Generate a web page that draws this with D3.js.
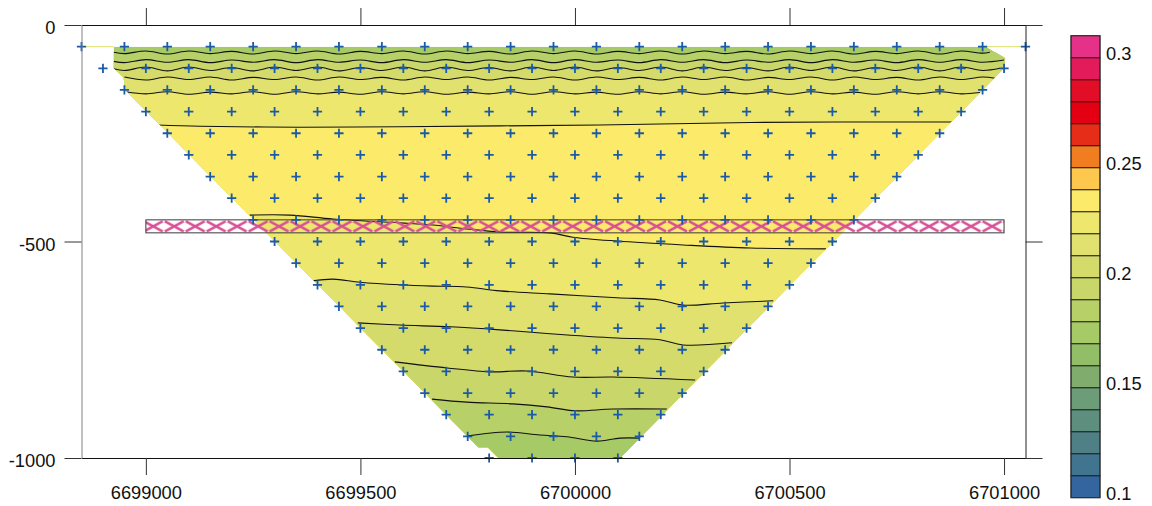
<!DOCTYPE html>
<html>
<head>
<meta charset="utf-8">
<script src="https://cdn.jsdelivr.net/npm/d3@7"></script>
<style>
  html, body { margin: 0; padding: 0; background: #fff; }
  svg { display: block; font-family: "Liberation Sans", Arial, sans-serif; }
</style>
</head>
<body>
<svg id="chart" width="1152" height="506"></svg>
<script>
// ---- axes ----
const eastingDomain = [6698850, 6701050];
const depthDomain = [0, -1000];
const eastingTicks = [6699000, 6699500, 6700000, 6700500, 6701000];
const depthTicks = [0, -500, -1000];

// ---- colour classes (0.01 wide) ----
const levels = [0.10, 0.11, 0.12, 0.13, 0.14, 0.15, 0.16, 0.17, 0.18, 0.19, 0.20,
                0.21, 0.22, 0.23, 0.24, 0.25, 0.26, 0.27, 0.28, 0.29, 0.30, 0.31];
const legendTicks = [0.1, 0.15, 0.2, 0.25, 0.3];
const palette = ["#35659e", "#41758f", "#4e8086", "#5d8e7e", "#6c9c78", "#80ad6e",
                 "#92be68", "#a5ca66", "#b7d067", "#c8d66a", "#d4db6b", "#e0e16e",
                 "#eee76e", "#fceb6a", "#fec84f", "#f07e21", "#e52d18", "#e20012",
                 "#e20d26", "#e41b5a", "#e63188"];

// ---- survey stations: one row per depth, 100 m apart along each row ----
const stationDepth = [-50, -100, -150, -200, -250, -300, -350, -400, -450, -500,
                      -550, -600, -650, -700, -750, -800, -850, -900, -950, -1000];
const stationFirst = [6698850, 6698900, 6698950, 6699000, 6699050, 6699100, 6699150,
                      6699200, 6699250, 6699300, 6699350, 6699400, 6699450, 6699500,
                      6699550, 6699600, 6699650, 6699700, 6699750, 6699800];
const stationLast  = [6701050, 6701000, 6700950, 6700900, 6700850, 6700800, 6700750,
                      6700700, 6700650, 6700600, 6700550, 6700500, 6700450, 6700400,
                      6700350, 6700300, 6700250, 6700200, 6700150, 6700100];
const stationStep = 100;

// ---- gridded area (easting, depth) ----
const coverage = [[6698925, -50], [6700958, -50], [6701003, -76], [6701000, -100],
                  [6700950, -150], [6700105, -1000], [6699822, -1000], [6699797, -975],
                  [6699775, -975], [6698952, -150], [6698948, -122], [6698925, -100]];

// ---- isolines (easting, depth), top to bottom ----
const iso018a = [[6698925,-63],[6698950,-66],[6699000,-60],[6699050,-67],[6699100,-60],[6699150,-66],[6699200,-61],[6699250,-67],[6699300,-60],[6699350,-66],[6699400,-60],[6699450,-67],[6699500,-61],[6699550,-66],[6699600,-60],[6699650,-67],[6699700,-60],[6699750,-66],[6699800,-61],[6699850,-67],[6699900,-60],[6699950,-66],[6700000,-60],[6700050,-67],[6700100,-61],[6700150,-66],[6700200,-60],[6700250,-67],[6700300,-60],[6700350,-66],[6700400,-61],[6700450,-67],[6700500,-60],[6700550,-66],[6700600,-60],[6700650,-67],[6700700,-61],[6700750,-66],[6700800,-60],[6700850,-67],[6700900,-60],[6700950,-65],[6700967,-63]];
const iso019a = [[6698925,-84],[6698950,-87],[6699000,-80],[6699050,-86],[6699100,-80],[6699150,-87],[6699200,-81],[6699250,-86],[6699300,-80],[6699350,-87],[6699400,-80],[6699450,-86],[6699500,-81],[6699550,-87],[6699600,-80],[6699650,-86],[6699700,-80],[6699750,-87],[6699800,-81],[6699850,-86],[6699900,-80],[6699950,-87],[6700000,-80],[6700050,-86],[6700100,-81],[6700150,-87],[6700200,-80],[6700250,-86],[6700300,-80],[6700350,-87],[6700400,-81],[6700450,-86],[6700500,-80],[6700550,-87],[6700600,-80],[6700650,-86],[6700700,-81],[6700750,-87],[6700800,-80],[6700850,-86],[6700900,-80],[6700950,-86],[6701000,-81]];
const iso020a = [[6698925,-101],[6698950,-105],[6699000,-97],[6699050,-106],[6699100,-97],[6699150,-105],[6699200,-98],[6699250,-106],[6699300,-97],[6699350,-105],[6699400,-97],[6699450,-106],[6699500,-98],[6699550,-105],[6699600,-97],[6699650,-106],[6699700,-97],[6699750,-105],[6699800,-98],[6699850,-106],[6699900,-97],[6699950,-105],[6700000,-97],[6700050,-106],[6700100,-98],[6700150,-105],[6700200,-97],[6700250,-106],[6700300,-97],[6700350,-105],[6700400,-98],[6700450,-106],[6700500,-97],[6700550,-105],[6700600,-97],[6700650,-106],[6700700,-98],[6700750,-105],[6700800,-97],[6700850,-106],[6700900,-97],[6700950,-105],[6700991,-100]];
const iso021a = [[6698950,-120],[6699000,-127],[6699050,-120],[6699100,-126],[6699150,-120],[6699200,-127],[6699250,-121],[6699300,-126],[6699350,-120],[6699400,-127],[6699450,-120],[6699500,-126],[6699550,-121],[6699600,-127],[6699650,-120],[6699700,-126],[6699750,-120],[6699800,-127],[6699850,-121],[6699900,-126],[6699950,-120],[6700000,-127],[6700050,-120],[6700100,-126],[6700150,-121],[6700200,-127],[6700250,-120],[6700300,-126],[6700350,-120],[6700400,-127],[6700450,-121],[6700500,-126],[6700550,-120],[6700600,-127],[6700650,-120],[6700700,-126],[6700750,-121],[6700800,-127],[6700850,-120],[6700900,-126],[6700950,-120],[6700979,-123]];
const iso022a = [[6698953,-154],[6699000,-159],[6699050,-154],[6699100,-160],[6699150,-155],[6699200,-159],[6699250,-154],[6699300,-160],[6699350,-154],[6699400,-159],[6699450,-155],[6699500,-160],[6699550,-154],[6699600,-159],[6699650,-154],[6699700,-160],[6699750,-155],[6699800,-159],[6699850,-154],[6699900,-160],[6699950,-154],[6700000,-159],[6700050,-155],[6700100,-160],[6700150,-154],[6700200,-159],[6700250,-154],[6700300,-160],[6700350,-155],[6700400,-159],[6700450,-154],[6700500,-160],[6700550,-154],[6700600,-159],[6700650,-155],[6700700,-160],[6700750,-154],[6700800,-159],[6700850,-154],[6700900,-159],[6700944,-156]];
const iso023a = [[6699028,-231],[6699126,-234],[6699359,-236],[6699592,-235],[6699825,-233],[6700058,-231],[6700408,-225],[6700879,-224]];
const iso023b = [[6699242,-439],[6699336,-439],[6699436,-448],[6699592,-457],[6699669,-462],[6699748,-471],[6699825,-478],[6699942,-480],[6699995,-490],[6700098,-499],[6700252,-508],[6700408,-515],[6700585,-517]];
const iso022b = [[6699389,-591],[6699436,-587],[6699499,-594],[6699592,-600],[6699669,-603],[6699748,-605],[6699825,-614],[6699942,-621],[6700098,-630],[6700198,-635],[6700252,-647],[6700345,-642],[6700462,-637]];
const iso021b = [[6699494,-688],[6699592,-693],[6699709,-697],[6699825,-704],[6699942,-713],[6700098,-723],[6700198,-727],[6700252,-739],[6700366,-734]];
const iso020b = [[6699580,-778],[6699702,-792],[6699802,-801],[6699888,-799],[6699995,-813],[6700089,-813],[6700280,-820]];
const iso019b = [[6699667,-864],[6699748,-871],[6699855,-875],[6699935,-882],[6700000,-891],[6700089,-887],[6700214,-887]];
const iso018b = [[6699751,-949],[6699841,-940],[6699918,-947],[6699981,-951],[6700051,-961],[6700105,-954],[6700152,-954]];

const isolines = [iso018a, iso019a, iso020a, iso021a, iso022a, iso023a,
                  iso023b, iso022b, iso021b, iso020b, iso019b, iso018b];
// value class lying just below each isoline, and the class at the surface
const bandBelow = [0.185, 0.195, 0.205, 0.215, 0.225, 0.235,
                   0.225, 0.215, 0.205, 0.195, 0.185, 0.175];
const surfaceBand = 0.175;

// ---- marked interval ----
const barEasting = [6699000, 6701000];
const barDepth = [-450, -480];

// ---------------------------------------------------------------
const svg = d3.select("#chart");
const defs = svg.append("defs");
const FONT = "'Liberation Sans', Arial, sans-serif";
const FS = 18.3;
const plain = d => String(d);   // keeps an ASCII hyphen for negative depths

const x = d3.scaleLinear().domain(eastingDomain).range([81.5, 1025.5]);
const y = d3.scaleLinear().domain(depthDomain).range([25, 458]);
const color = d3.scaleThreshold().domain(levels.slice(1, -1)).range(palette);

const curve = d3.curveCatmullRom.alpha(0.5);
const line = d3.line().x(d => x(d[0])).y(d => y(d[1])).curve(curve);
const area = d3.area().x(d => x(d[0])).y0(y(depthDomain[1]) + 10).y1(d => y(d[1])).curve(curve);
const poly = d3.line().x(d => x(d[0])).y(d => y(d[1]));

defs.append("clipPath").attr("id", "coverage-clip")
  .append("path").attr("d", poly(coverage) + "Z");

// filled classes
const fillG = svg.append("g").attr("clip-path", "url(#coverage-clip)");
fillG.append("path").attr("d", poly(coverage) + "Z").attr("fill", color(surfaceBand));
isolines.forEach((pts, i) => {
  const ext = [[eastingDomain[0], pts[0][1]], ...pts, [eastingDomain[1], pts[pts.length - 1][1]]];
  fillG.append("path").attr("d", area(ext)).attr("fill", color(bandBelow[i]));
});

// thin strip along the shallowest station row beyond the gridded area
const edgeG = svg.append("g").attr("fill", "none")
  .attr("stroke", color(0.215)).attr("stroke-width", 1.2).attr("opacity", 0.85);
edgeG.append("path").attr("d", poly([[stationFirst[0], stationDepth[0]], coverage[0]]));
edgeG.append("path").attr("d", poly([coverage[1], [stationLast[0], stationDepth[0]]]));

// isolines
const lineG = svg.append("g").attr("clip-path", "url(#coverage-clip)")
  .attr("fill", "none").attr("stroke", "#111").attr("stroke-width", 1.1);
isolines.forEach(pts => lineG.append("path").attr("d", line(pts)));

// marked interval with cross hatching
const barX0 = x(barEasting[0]), barX1 = x(barEasting[1]);
const barY0 = y(barDepth[0]), barY1 = y(barDepth[1]);
const hatchW = 20.97, hatchH = barY1 - barY0;
const pat = defs.append("pattern").attr("id", "xhatch")
  .attr("patternUnits", "userSpaceOnUse")
  .attr("x", barX0 - 3.1).attr("y", barY0)
  .attr("width", hatchW).attr("height", hatchH);
pat.append("path")
  .attr("d", `M1,1.3L${hatchW - 1},${hatchH - 1.3}M${hatchW - 1},1.3L1,${hatchH - 1.3}`)
  .attr("stroke", "#d94f95").attr("stroke-width", 2.5).attr("fill", "none");
svg.append("rect")
  .attr("x", barX0).attr("y", barY0)
  .attr("width", barX1 - barX0).attr("height", hatchH)
  .attr("fill", "url(#xhatch)")
  .attr("stroke", "#3a3a3a").attr("stroke-width", 1);

// stations
const stations = [];
stationDepth.forEach((d, i) => {
  d3.range(stationFirst[i], stationLast[i] + 1, stationStep).forEach(e => stations.push([e, d]));
});
svg.append("g").selectAll("path").data(stations).join("path")
  .attr("transform", d => `translate(${x(d[0])},${y(d[1])})`)
  .attr("d", "M-4.6,0H4.6M0,-4.6V4.6")
  .attr("stroke", "#1b5aa6").attr("stroke-width", 1.8).attr("fill", "none");

// axes
function styleAxis(g, domainColor) {
  g.attr("font-family", FONT).attr("font-size", FS);
  g.select(".domain").attr("stroke", domainColor);
  g.selectAll(".tick line").attr("stroke", "#333");
  g.selectAll(".tick text").attr("fill", "#111");
}
svg.append("g").attr("transform", `translate(0,${y(depthDomain[0])})`)
  .call(d3.axisTop(x).tickValues(eastingTicks).tickSize(17).tickSizeOuter(0).tickFormat(""))
  .call(g => styleAxis(g, "#111"));
svg.append("g").attr("transform", `translate(0,${y(depthDomain[1])})`)
  .call(d3.axisBottom(x).tickValues(eastingTicks).tickSize(17).tickSizeOuter(0)
    .tickPadding(11).tickFormat(plain))
  .call(g => styleAxis(g, "#111"));
svg.append("g").attr("transform", `translate(${x(eastingDomain[0])},0)`)
  .call(d3.axisLeft(y).tickValues(depthTicks).tickSize(17).tickSizeOuter(0)
    .tickPadding(9).tickFormat(plain))
  .call(g => styleAxis(g, "#808080"))
  .call(g => g.selectAll(".tick text").attr("dy", "0.47em"));
svg.append("g").attr("transform", `translate(${x(eastingDomain[1])},0)`)
  .call(d3.axisRight(y).tickValues(depthTicks).tickSize(17).tickSizeOuter(0).tickFormat(""))
  .call(g => styleAxis(g, "#222"));

// colour bar
const legX = 1071, legW = 29;
const yLeg = d3.scaleLinear().domain([levels[0], levels[levels.length - 1]]).range([497.7, 35.7]);
const legG = svg.append("g");
legG.selectAll("rect.cls").data(levels.slice(0, -1)).join("rect")
  .attr("class", "cls")
  .attr("x", legX).attr("width", legW)
  .attr("y", (d, i) => yLeg(levels[i + 1]))
  .attr("height", (d, i) => yLeg(levels[i]) - yLeg(levels[i + 1]))
  .attr("fill", d => color(d + 0.005))
  .attr("stroke", "#1a1a1a").attr("stroke-width", 0.9);
legG.append("rect")
  .attr("x", legX).attr("y", yLeg(levels[levels.length - 1]))
  .attr("width", legW).attr("height", yLeg(levels[0]) - yLeg(levels[levels.length - 1]))
  .attr("fill", "none").attr("stroke", "#333").attr("stroke-width", 1);
legG.selectAll("text").data(legendTicks).join("text")
  .attr("x", legX + legW + 6).attr("y", d => yLeg(d))
  .attr("dy", "0.12em")
  .attr("font-family", FONT).attr("font-size", FS).attr("fill", "#111")
  .text(plain);
</script>
</body>
</html>
